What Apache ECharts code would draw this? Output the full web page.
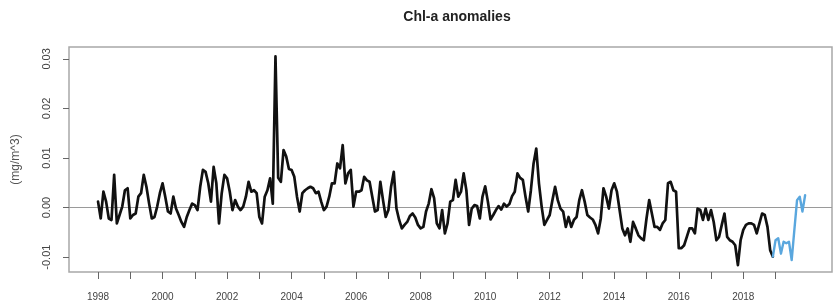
<!DOCTYPE html>
<html><head><meta charset="utf-8">
<script src="https://cdn.jsdelivr.net/npm/echarts@6/dist/echarts.min.js"></script>
<style>html,body{margin:0;padding:0;background:#fff}#c{width:835px;height:307px}</style>
</head><body><div id="c"></div>
<script>
const titleText = 'Chl-a anomalies';
const yAxisName = '(mg/m^3)';
const startYear = 1998;
// Monthly anomalies, Jan 1998 .. Dec 2018 (black)
const historicalValues = [
  0.0012,-0.0022,0.0032,0.0012,-0.0022,-0.0025,0.0066,-0.0032,-0.0015,0.0002,0.0035,0.0039,
  -0.0022,-0.0015,-0.0012,0.0022,0.0029,0.0066,0.0042,0.0008,-0.0022,-0.0019,0.0002,0.0029,
  0.0049,0.0022,-0.0008,-0.0012,0.0022,-0.0002,-0.0015,-0.0029,-0.0039,-0.0019,-0.0005,0.0008,
  0.0005,-0.0005,0.0042,0.0076,0.0072,0.0049,0.0012,0.0082,0.0049,-0.0032,0.0029,0.0066,
  0.0059,0.0032,-0.0005,0.0015,0.0002,-0.0005,0.0002,0.0022,0.0052,0.0032,0.0035,0.0029,
  -0.0019,-0.0032,0.0022,0.0035,0.0059,0.0008,0.0305,0.0060,0.0052,0.0116,0.0103,0.0078,
  0.0076,0.0062,0.0022,-0.0008,0.0029,0.0035,0.0039,0.0042,0.0039,0.0029,0.0032,0.0012,
  -0.0005,0.0002,0.0022,0.0049,0.0049,0.0089,0.0079,0.0126,0.0049,0.0069,0.0076,0.0002,
  0.0032,0.0032,0.0035,0.0062,0.0055,0.0052,0.0022,-0.0008,-0.0005,0.0052,0.0015,-0.0019,
  -0.0005,0.0042,0.0072,-0.0002,-0.0025,-0.0042,-0.0035,-0.0029,-0.0017,-0.0012,-0.0020,-0.0035,
  -0.0042,-0.0039,-0.0008,0.0008,0.0037,0.0019,-0.0032,-0.0042,-0.0005,-0.0052,-0.0032,0.0012,
  0.0015,0.0056,0.0022,0.0032,0.0069,0.0035,-0.0035,-0.0002,0.0005,0.0003,-0.0022,0.0022,
  0.0043,0.0012,-0.0024,-0.0015,-0.0005,0.0003,-0.0004,0.0008,0.0002,0.0007,0.0023,0.0032,
  0.0069,0.0060,0.0056,0.0022,-0.0008,0.0035,0.0089,0.0119,0.0049,0.0002,-0.0035,-0.0025,
  -0.0015,0.0015,0.0042,0.0015,-0.0002,-0.0008,-0.0039,-0.0019,-0.0039,-0.0025,-0.0019,0.0015,
  0.0035,0.0012,-0.0015,-0.0020,-0.0024,-0.0035,-0.0052,-0.0022,0.0039,0.0022,-0.0002,0.0035,
  0.0049,0.0032,-0.0005,-0.0042,-0.0056,-0.0042,-0.0069,-0.0029,-0.0042,-0.0056,-0.0062,-0.0066,
  -0.0022,0.0015,-0.0012,-0.0039,-0.0039,-0.0045,-0.0032,-0.0025,0.0049,0.0052,0.0035,0.0032,
  -0.0082,-0.0082,-0.0076,-0.0059,-0.0042,-0.0042,-0.0052,-0.0002,-0.0005,-0.0025,-0.0002,-0.0025,
  -0.0005,-0.0029,-0.0066,-0.0059,-0.0035,-0.0012,-0.0059,-0.0066,-0.0069,-0.0076,-0.0116,-0.0066,
  -0.0045,-0.0035,-0.0032,-0.0032,-0.0035,-0.0052,-0.0032,-0.0012,-0.0015,-0.0039,-0.0086,-0.0099
];
// Recent anomalies, Dec 2018 .. Dec 2019 (blue)
const recentStartIndex = 251;
const recentValues = [-0.0099,-0.0066,-0.0062,-0.0093,-0.0069,-0.0072,-0.0069,-0.0106,-0.0045,0.0015,0.0022,-0.0008,0.0025];
const xTickYears = [1998,1999,2000,2001,2002,2003,2004,2005,2006,2007,2008,2009,2010,2011,2012,2013,2014,2015,2016,2017,2018,2019];
const xLabelYears = [1998,2000,2002,2004,2006,2008,2010,2012,2014,2016,2018];
const yTicks = [-0.01,0,0.01,0.02,0.03];

const blackData = historicalValues.map((v,i)=>[startYear + i/12, v]);
const blueData = recentValues.map((v,i)=>[startYear + (recentStartIndex+i)/12, v]);

const FONT = 'Liberation Sans, Arial, sans-serif';
const chart = echarts.init(document.getElementById('c'), null, {renderer:'canvas'});
chart.setOption({
  animation:false,
  backgroundColor:'#fff',
  title:{text:titleText, left:452, top:5, textAlign:'center',
    textStyle:{fontFamily:FONT, fontSize:14, fontWeight:'bold', color:'#222'}},
  grid:{left:69, right:3, top:47, bottom:35, show:true, borderColor:'#a8a8a8', borderWidth:1.5, backgroundColor:'transparent'},
  xAxis:{type:'value', min:1997.1, max:2020.75,
    axisLine:{show:false, onZero:false}, splitLine:{show:false},
    axisTick:{show:true, inside:false, customValues:xTickYears, length:7, lineStyle:{color:'#666', width:1}},
    axisLabel:{customValues:xLabelYears, margin:20, fontSize:10, color:'#444', fontFamily:FONT, formatter:v=>String(v)}},
  yAxis:{type:'value', min:-0.013, max:0.0324,
    axisLine:{show:false, onZero:false}, splitLine:{show:false},
    axisTick:{show:true, inside:false, customValues:yTicks, length:6, lineStyle:{color:'#666', width:1}},
    axisLabel:{customValues:yTicks, rotate:90, margin:17, fontSize:11, color:'#444', fontFamily:FONT, formatter:v=>v.toFixed(2)},
    name:yAxisName, nameLocation:'middle', nameRotate:90, nameGap:47,
    nameTextStyle:{fontFamily:FONT, fontSize:12, color:'#555'}},
  series:[
    {type:'line', data:blackData, symbol:'none', z:3,
      lineStyle:{color:'#111', width:2.7, join:'round', cap:'round'},
      markLine:{silent:true, symbol:['none','none'], label:{show:false},
        lineStyle:{color:'#9a9a9a', width:1, type:'solid'}, data:[{yAxis:0}], z:1}},
    {type:'line', data:blueData, symbol:'none', z:4,
      lineStyle:{color:'#5aa7de', width:2.4, join:'round', cap:'round'}}
  ]
});
</script></body></html>
